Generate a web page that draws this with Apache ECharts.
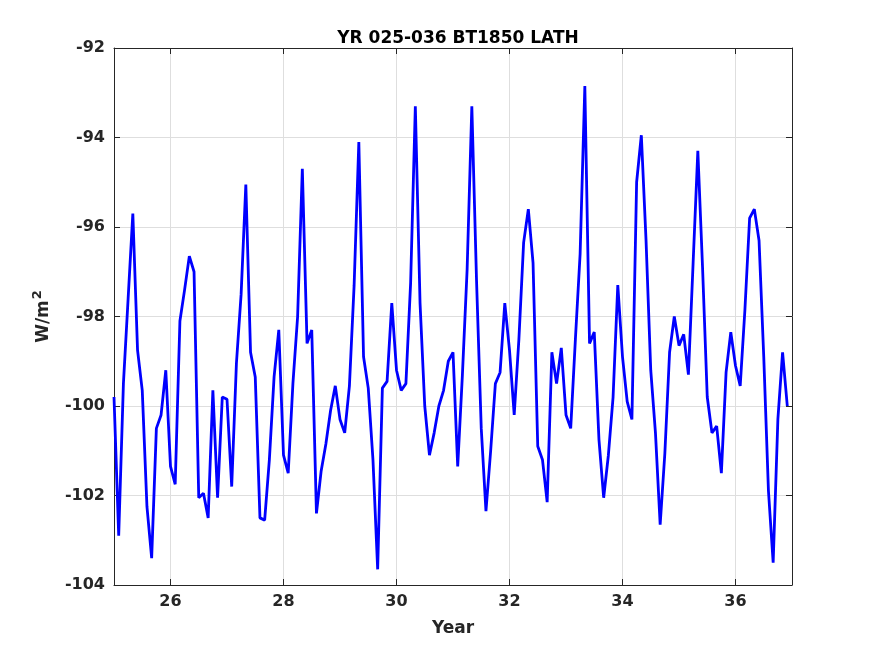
<!DOCTYPE html>
<html>
<head>
<meta charset="UTF-8">
<title>YR 025-036 BT1850 LATH</title>
<script src="https://cdn.jsdelivr.net/npm/echarts@6/dist/echarts.min.js"></script>
<style>
    * { margin: 0; padding: 0; }
    body { background: #fff; }
    #main { width: 875px; height: 656px; }
</style>
</head>
<body>
<div id="main"></div>
<script>
    // monthly flux, years 25..36 (12 per year), W/m^2
    var flux = [
        -99.8, -102.9, -99.5, -97.6, -95.7, -98.75, -99.65, -102.25, -103.4, -100.5, -100.2, -99.2,
        -101.35, -101.75, -98.1, -97.4, -96.65, -97.0, -102.05, -101.95, -102.5, -99.65, -102.05, -99.8,
        -99.85, -101.8, -99.05, -97.5, -95.05, -98.8, -99.35, -102.5, -102.55, -101.2, -99.35, -98.3,
        -101.1, -101.5, -99.5, -98.0, -94.7, -98.6, -98.3, -102.4, -101.45, -100.85, -100.1, -99.55,
        -100.3, -100.6, -99.55, -97.3, -94.1, -98.9, -99.6, -101.2, -103.65, -99.6, -99.45, -97.7,
        -99.2, -99.65, -99.5, -97.25, -93.3, -97.7, -100.0, -101.1, -100.6, -100.0, -99.65, -99.0,
        -98.8, -101.35, -99.3, -96.95, -93.3, -97.2, -100.5, -102.35, -101.0, -99.5, -99.25, -97.7,
        -98.75, -100.2, -98.5, -96.35, -95.6, -96.8, -100.9, -101.2, -102.15, -98.8, -99.5, -98.7,
        -100.2, -100.5, -98.5, -96.6, -92.85, -98.6, -98.35, -100.75, -102.05, -101.1, -99.8, -97.3,
        -98.9, -99.9, -100.3, -95.0, -93.95, -96.3, -99.2, -100.6, -102.65, -101.05, -98.8, -98.0,
        -98.65, -98.4, -99.3, -96.8, -94.3, -96.9, -99.8, -100.6, -100.45, -101.5, -99.25, -98.35,
        -99.1, -99.55, -97.85, -95.8, -95.6, -96.3, -98.9, -101.9, -103.5, -100.3, -98.8, -100.0
    ];
    var startYear = 25;
    var xTicks = [26, 28, 30, 32, 34, 36];

    // 时间轴：每月一个点
    var points = flux.map(function (v, i) {
        return [startYear + i / 12, v];
    });

    var ink = '#262626';
    var labelFont = { color: ink, fontWeight: 'bold', fontSize: 16, fontFamily: 'DejaVu Sans' };

    var myChart = echarts.init(document.getElementById('main'));

    var option = {
        backgroundColor: '#fff',
        animation: false,
        title: {
            text: 'YR 025-036 BT1850 LATH',
            left: 453,
            textAlign: 'center',
            top: 25,
            textStyle: { color: '#000', fontWeight: 'bold', fontSize: 17, fontFamily: 'DejaVu Sans' }
        },
        grid: { left: 114, right: 83, top: 48, bottom: 71 },
        xAxis: [
            {
                type: 'value', min: 25, max: 37,
                name: 'Year', nameLocation: 'middle', nameGap: 35,
                nameTextStyle: { color: ink, fontWeight: 'bold', fontSize: 17, fontFamily: 'DejaVu Sans' },
                axisLine: { show: true, onZero: false, lineStyle: { color: ink, width: 1 } },
                axisTick: { show: true, inside: true, length: 6, customValues: xTicks, lineStyle: { color: ink } },
                axisLabel: Object.assign({ margin: 9, customValues: xTicks }, labelFont),
                splitLine: { show: true, lineStyle: { color: '#dedede', width: 1 } }
            },
            {
                type: 'value', min: 25, max: 37, position: 'top',
                axisLine: { show: true, onZero: false, lineStyle: { color: ink, width: 1 } },
                axisTick: { show: true, inside: true, length: 6, customValues: xTicks, lineStyle: { color: ink } },
                axisLabel: { show: false },
                splitLine: { show: false }
            }
        ],
        yAxis: [
            {
                type: 'value', min: -104, max: -92, interval: 2,
                name: 'W/m{sup|2}', nameLocation: 'middle', nameGap: 58, nameRotate: 90,
                nameTextStyle: {
                    color: ink, fontWeight: 'bold', fontSize: 17, fontFamily: 'DejaVu Sans',
                    rich: {
                        sup: { color: ink, fontWeight: 'bold', fontSize: 13, fontFamily: 'DejaVu Sans', padding: [0, 0, 12, 1] }
                    }
                },
                axisLine: { show: true, onZero: false, lineStyle: { color: ink, width: 1 } },
                axisTick: { show: true, inside: true, length: 6, lineStyle: { color: ink } },
                axisLabel: Object.assign({ margin: 9 }, labelFont),
                splitLine: { show: true, lineStyle: { color: '#dedede', width: 1 } }
            },
            {
                type: 'value', min: -104, max: -92, interval: 2, position: 'right',
                axisLine: { show: true, onZero: false, lineStyle: { color: ink, width: 1 } },
                axisTick: { show: true, inside: true, length: 6, lineStyle: { color: ink } },
                axisLabel: { show: false },
                splitLine: { show: false }
            }
        ],
        series: [
            {
                type: 'line',
                data: points,
                showSymbol: false,
                lineStyle: { color: '#0000ff', width: 2.8 },
                itemStyle: { color: '#0000ff' },
                z: 5
            }
        ]
    };
    myChart.setOption(option);
</script>
</body>
</html>
